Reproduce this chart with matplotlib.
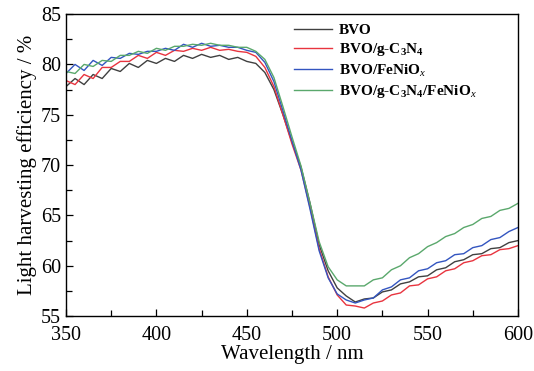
import matplotlib
matplotlib.use('Agg')
import matplotlib.pyplot as plt
import numpy as np
from matplotlib.ticker import MultipleLocator

plt.rcParams['font.family'] = 'Liberation Serif'
plt.rcParams['mathtext.fontset'] = 'custom'
plt.rcParams['mathtext.rm'] = 'Liberation Serif'
plt.rcParams['mathtext.it'] = 'Liberation Serif:italic'
plt.rcParams['mathtext.bf'] = 'Liberation Serif:bold'

wavelength = np.arange(350, 601, 5)

bvo = [77.8, 78.6, 78.0, 79.0, 78.6, 79.6, 79.3, 80.1, 79.7, 80.4,
       80.1, 80.6, 80.3, 80.9, 80.6, 81.0, 80.7, 80.9, 80.5, 80.7,
       80.3, 80.1, 79.2, 77.5, 75.0, 72.3, 69.8, 66.2, 62.1, 59.5,
       57.8, 57.0, 56.4, 56.7, 56.8, 57.4, 57.6, 58.2, 58.4, 58.9,
       59.0, 59.6, 59.8, 60.4, 60.6, 61.1, 61.2, 61.7, 61.8, 62.3,
       62.5]

bvo_cn = [78.4, 78.0, 79.0, 78.6, 79.7, 79.7, 80.3, 80.3, 80.9, 80.6,
          81.2, 80.9, 81.4, 81.3, 81.6, 81.4, 81.7, 81.4, 81.5, 81.3,
          81.2, 80.8, 79.7, 77.8, 75.0, 72.1, 69.5, 65.8, 61.7, 58.9,
          57.1, 56.1, 56.0, 55.8, 56.3, 56.5, 57.1, 57.3, 58.0, 58.1,
          58.7, 58.9, 59.5, 59.7, 60.3, 60.5, 61.0, 61.1, 61.6, 61.7,
          62.0]

bvo_fn = [79.1, 80.0, 79.4, 80.4, 79.9, 80.7, 80.6, 81.1, 81.0, 81.3,
          81.3, 81.6, 81.4, 82.0, 81.7, 82.1, 81.8, 81.9, 81.7, 81.7,
          81.4, 81.2, 80.2, 78.3, 75.4, 72.4, 69.5, 65.6, 61.5, 58.8,
          57.2, 56.6, 56.3, 56.6, 56.8, 57.6, 57.9, 58.6, 58.8, 59.5,
          59.7, 60.3, 60.5, 61.1, 61.2, 61.8, 62.0, 62.6, 62.8, 63.4,
          63.8]

bvo_cn_fn = [79.3, 79.1, 80.0, 79.8, 80.4, 80.3, 80.9, 80.9, 81.3, 81.1,
             81.6, 81.4, 81.8, 81.8, 82.0, 81.9, 82.1, 81.9, 81.9, 81.7,
             81.7, 81.3, 80.5, 78.7, 75.8, 72.8, 69.9, 66.2, 62.4, 59.9,
             58.6, 58.0, 58.0, 58.0, 58.6, 58.8, 59.6, 60.0, 60.8, 61.2,
             61.9, 62.3, 62.9, 63.2, 63.8, 64.1, 64.7, 64.9, 65.5, 65.7,
             66.2]

labels = ['BVO', r'BVO/g-C$_\mathbf{3}$N$_\mathbf{4}$', r'BVO/FeNiO$_x$',
          r'BVO/g-C$_\mathbf{3}$N$_\mathbf{4}$/FeNiO$_x$']
colors = ['#404040', '#e8343f', '#3355c0', '#5aa86c']

fig = plt.figure(figsize=(5.34, 3.71), dpi=100)
ax = fig.add_axes([0.1236, 0.148, 0.8464, 0.814])

for y, lab, c in zip([bvo, bvo_cn, bvo_fn, bvo_cn_fn], labels, colors):
    ax.plot(wavelength, y, color=c, lw=1.0, label=lab)

ax.set_xlim(350, 600)
ax.set_ylim(55, 85)
ax.xaxis.set_major_locator(MultipleLocator(50))
ax.xaxis.set_minor_locator(MultipleLocator(25))
ax.yaxis.set_major_locator(MultipleLocator(5))
ax.yaxis.set_minor_locator(MultipleLocator(2.5))
ax.tick_params(which='both', direction='in', top=False, right=False,
               labelsize=14.5, width=0.9)
ax.tick_params(axis='x', pad=7)
ax.tick_params(which='major', length=5)
ax.tick_params(which='minor', length=4)
for s in ax.spines.values():
    s.set_linewidth(1.0)

ax.set_xlabel('Wavelength / nm', fontsize=15, labelpad=0)
ax.set_ylabel('Light harvesting efficiency / %', fontsize=15, labelpad=3)

leg = ax.legend(loc='upper left', bbox_to_anchor=(0.49, 0.99), frameon=False,
                handlelength=2.5, handletextpad=0.45, labelspacing=0.28,
                borderaxespad=0.0, prop={'size': 11, 'weight': 'bold'})

fig.savefig('out.png', dpi=100)
